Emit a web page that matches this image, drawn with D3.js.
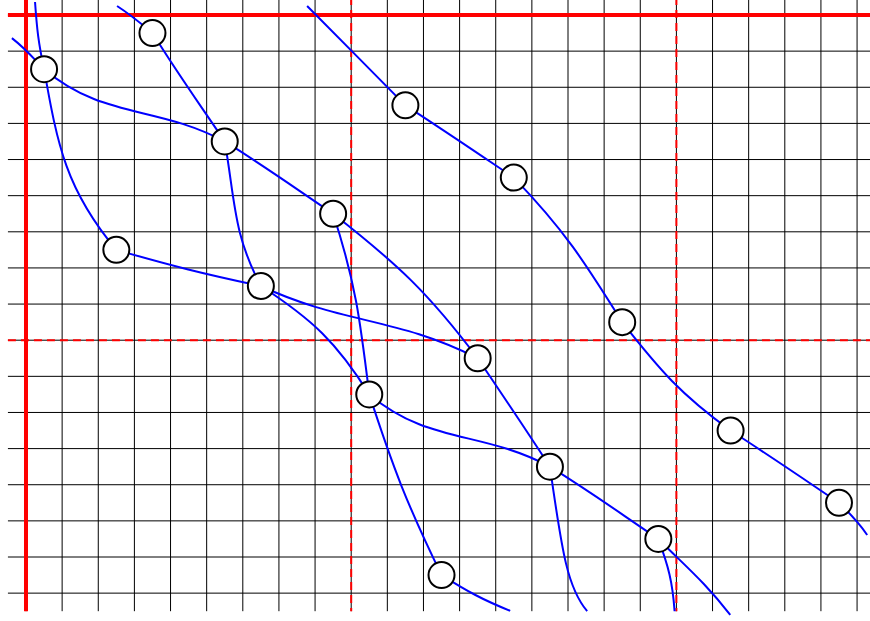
<!DOCTYPE html>
<html>
<head>
<meta charset="utf-8">
<script src="https://cdn.jsdelivr.net/npm/d3@7"></script>
<style>
  body { margin: 0; background: #fff; }
  svg { display: block; }
</style>
</head>
<body>
<svg id="chart" width="870" height="621"></svg>
<script>
// node cells (column, row) - one node per row
const nodeCols = [3, 0, 10, 5, 13, 8, 2, 6, 16, 12, 9, 19, 14, 22, 17, 11];
const nodeRows = [0, 1, 2, 3, 4, 5, 6, 7, 8, 9, 10, 11, 12, 13, 14, 15];

// loose ends of edges that leave the picture (grid units)
const endX = [0.25, -0.39, 2.52, 7.78, 23.28, 13.4, 15.53, 17.95, 19.49];
const endY = [-0.36, 0.64, -0.25, -0.25, 14.39, 16.49, 16.5, 16.5, 16.6];

// grid
const gridCols = d3.range(0, 24);
const gridRows = d3.range(0, 17);
const solidCols = [0];
const solidRows = [0];
const dashCols = [9, 18];
const dashRows = [9];

// edges: from, to, exit angle, entry angle (deg), handle fractions
const edges = [
  ["e0", "n1", 86, 78],
  ["e1", "n1", 38, 46],
  ["e2", "n0", 33, 40],
  ["e3", "n2", 45, 45],
  ["n0", "n3", 58, 56],
  ["n1", "n3", 40, 28],
  ["n1", "n6", 80, 50],
  ["n2", "n4", 33, 34],
  ["n3", "n5", 32, 34],
  ["n3", "n7", 80, 62],
  ["n4", "n8", 46, 58],
  ["n5", "n9", 38, 53],
  ["n5", "n10", 72, 83],
  ["n6", "n7", 16, 12],
  ["n7", "n9", 25, 27],
  ["n7", "n10", 33, 58],
  ["n8", "n11", 52, 36],
  ["n9", "n12", 56, 57],
  ["n10", "n12", 40, 28],
  ["n10", "n15", 72, 64],
  ["n11", "n13", 33, 34],
  ["n12", "n14", 32, 34],
  ["n12", "e6", 82, 50, 0.6, 0.2],
  ["n13", "e4", 45, 56],
  ["n14", "e7", 70, 86],
  ["n14", "e8", 45, 52],
  ["n15", "e5", 32, 22]
];

const svg = d3.select("#chart");

let x = d3.scaleLinear().domain([0, 9]).range([26, 351.2]);
let y = d3.scaleLinear().domain([0, 9]).range([15, 340.2]);

const xMin = -0.5, xMax = 23.5, yMin = -0.5, yMax = 16.5;

point = function(id) {
  let i = +id.slice(1);
  if (id[0] == "n") return [x(nodeCols[i] + 0.5), y(nodeRows[i] + 0.5)];
  return [x(endX[i]), y(endY[i])];
}

let grid = svg.append("g");

grid.selectAll("line.v")
  .data(gridCols)
  .enter()
  .append("line")
  .attr("x1", d => x(d)).attr("x2", d => x(d))
  .attr("y1", y(yMin)).attr("y2", y(yMax))
  .attr("stroke", "#000")
  .attr("stroke-width", 1);

grid.selectAll("line.h")
  .data(gridRows)
  .enter()
  .append("line")
  .attr("x1", x(xMin)).attr("x2", x(xMax))
  .attr("y1", d => y(d)).attr("y2", d => y(d))
  .attr("stroke", "#000")
  .attr("stroke-width", 1);

// red axes
let red = svg.append("g").attr("stroke", "#ff0000");

red.selectAll("line.sv")
  .data(solidCols)
  .enter()
  .append("line")
  .attr("x1", d => x(d)).attr("x2", d => x(d))
  .attr("y1", y(yMin)).attr("y2", y(yMax))
  .attr("stroke-width", 4);

red.selectAll("line.sh")
  .data(solidRows)
  .enter()
  .append("line")
  .attr("x1", x(xMin)).attr("x2", x(xMax))
  .attr("y1", d => y(d)).attr("y2", d => y(d))
  .attr("stroke-width", 4);

red.selectAll("line.dv")
  .data(dashCols)
  .enter()
  .append("line")
  .attr("x1", d => x(d)).attr("x2", d => x(d))
  .attr("y1", y(yMin)).attr("y2", y(yMax))
  .attr("stroke-width", 2)
  .attr("stroke-dasharray", "8,5");

red.selectAll("line.dh")
  .data(dashRows)
  .enter()
  .append("line")
  .attr("x1", x(xMin)).attr("x2", x(xMax))
  .attr("y1", d => y(d)).attr("y2", d => y(d))
  .attr("stroke-width", 2)
  .attr("stroke-dasharray", "8,5");

// edges as cubic curves
edgePath = function(e) {
  let p0 = point(e[0]);
  let p3 = point(e[1]);
  let a0 = e[2] * Math.PI / 180;
  let a1 = e[3] * Math.PI / 180;
  let len = Math.hypot(p3[0] - p0[0], p3[1] - p0[1]);
  let l0 = len * (e[4] || 0.4);
  let l1 = len * (e[5] || 0.4);
  let p = d3.path();
  p.moveTo(p0[0], p0[1]);
  p.bezierCurveTo(
    p0[0] + l0 * Math.cos(a0), p0[1] + l0 * Math.sin(a0),
    p3[0] - l1 * Math.cos(a1), p3[1] - l1 * Math.sin(a1),
    p3[0], p3[1]);
  return p.toString();
}

svg.append("g")
  .selectAll("path")
  .data(edges)
  .enter()
  .append("path")
  .attr("d", edgePath)
  .attr("fill", "none")
  .attr("stroke", "#0000ff")
  .attr("stroke-width", 2);

// nodes
svg.append("g")
  .selectAll("circle")
  .data(nodeCols.map((c, i) => "n" + i))
  .enter()
  .append("circle")
  .attr("cx", d => point(d)[0])
  .attr("cy", d => point(d)[1])
  .attr("r", 13)
  .attr("fill", "#fff")
  .attr("stroke", "#000")
  .attr("stroke-width", 2);
</script>
</body>
</html>
